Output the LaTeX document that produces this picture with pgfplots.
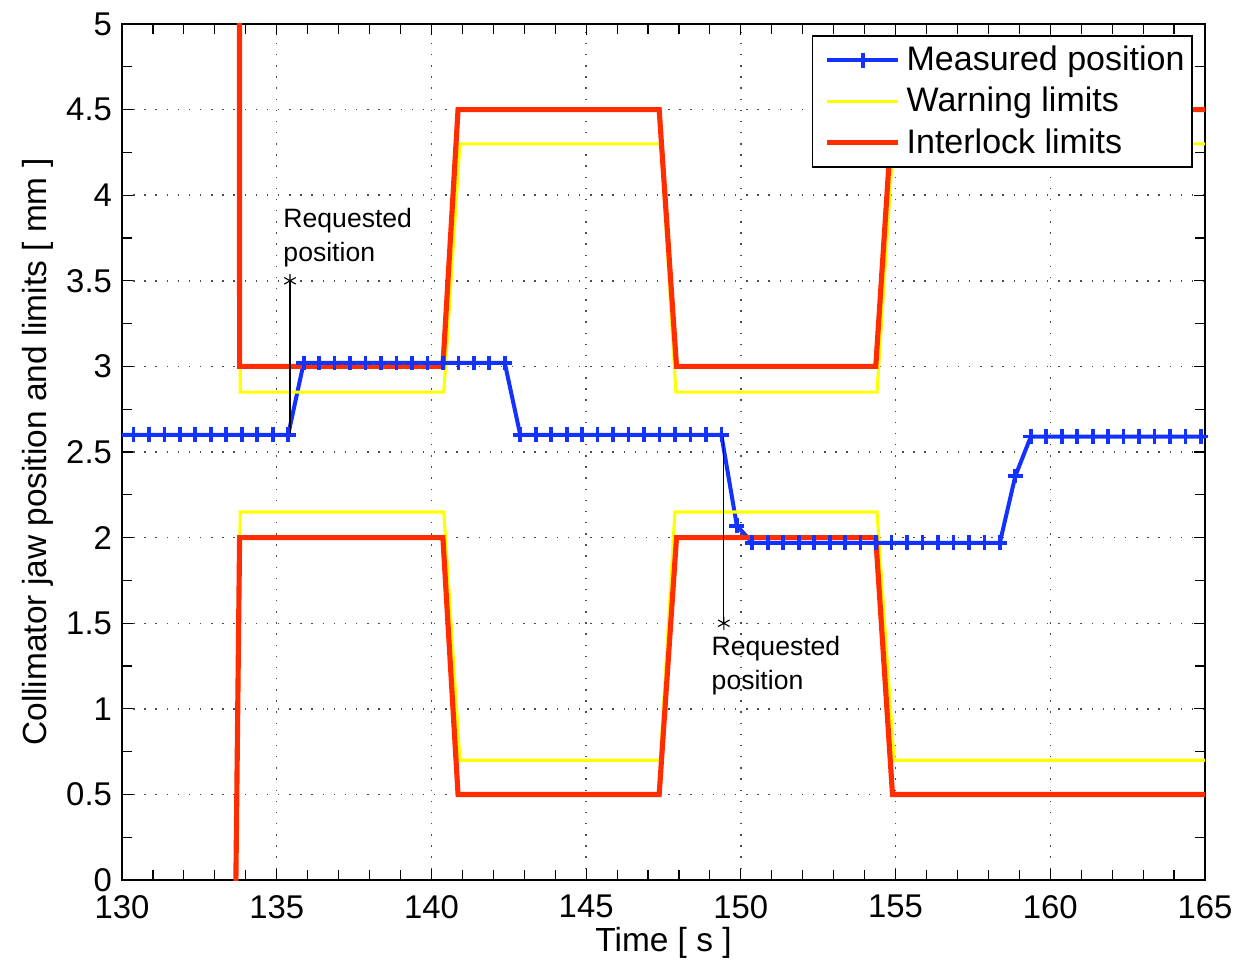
\documentclass[border=0pt]{standalone}
\usepackage{fontspec}
\setmainfont{Liberation Sans}
\usepackage{pgfplots}
\pgfplotsset{compat=1.18}

\definecolor{mblue}{RGB}{20,50,255}
\definecolor{myellow}{RGB}{255,255,0}
\definecolor{mred}{RGB}{255,45,0}

\begin{document}
\begin{tikzpicture}
\begin{axis}[
  name=ax,
  scale only axis,
  width=379pt, height=299.6pt,
  xmin=130, xmax=165, ymin=0, ymax=5,
  xtick={130,135,140,145,150,155,160,165},
  ytick={0,0.5,1,1.5,2,2.5,3,3.5,4,4.5,5},
  minor x tick num=4,
  minor y tick num=1,
  tick align=inside,
  major tick length=4pt, minor tick length=3.5pt,
  every tick/.style={black, line width=0.4pt},
  axis line style={line width=0.7pt},
  xmajorgrids, ymajorgrids,
  major grid style={black!70, line width=0.5pt, dash pattern=on 0.5pt off 3.4pt},
  tick label style={font=\fontsize{11.5}{13}\selectfont},
  xticklabel style={yshift=-1.8pt},
  /pgf/number format/assume math mode=true,
  xlabel={Time [ s ]},
  ylabel={Collimator jaw position and limits [ mm ]},
  every axis x label/.style={at={(axis description cs:0.5,-0.0735)}, anchor=center,
    font=\fontsize{11.7}{13}\selectfont},
  every axis y label/.style={at={(axis description cs:-0.0776,0.5)}, rotate=90, anchor=center,
    font=\fontsize{11.7}{13}\selectfont},
  legend style={at={(0.989,0.987)}, anchor=north east, draw=black, line width=0.6pt,
    fill=white, font=\fontsize{11.9}{13}\selectfont, inner xsep=0.7pt, inner ysep=1.5pt,
    row sep=0.3pt, cells={anchor=west}},
  legend image code/.code={\path (0pt,0pt); \draw[mark repeat=2,mark phase=2,#1] plot coordinates {(3.5pt,0pt) (16pt,0pt) (28.5pt,0pt)};},
]

% measured jaw position, one sample every 0.5 s
\addplot[mblue, line width=1.4pt, mark=+, mark size=2.6pt, mark options={line width=1.3pt}] coordinates {
  (129.87,2.6) (130.37,2.6) (130.87,2.6) (131.37,2.6) (131.87,2.6) (132.37,2.6)
  (132.87,2.6) (133.37,2.6) (133.87,2.6) (134.37,2.6) (134.87,2.6) (135.37,2.6)
  (135.87,3.02) (136.37,3.02) (136.87,3.02) (137.37,3.02) (137.87,3.02) (138.37,3.02)
  (138.87,3.02) (139.37,3.02) (139.87,3.02) (140.37,3.02) (140.87,3.02) (141.37,3.02)
  (141.87,3.02) (142.37,3.02)
  (142.87,2.6) (143.37,2.6) (143.87,2.6) (144.37,2.6) (144.87,2.6) (145.37,2.6)
  (145.87,2.6) (146.37,2.6) (146.87,2.6) (147.37,2.6) (147.87,2.6) (148.37,2.6)
  (148.87,2.6) (149.37,2.6)
  (149.87,2.07)
  (150.37,1.97) (150.87,1.97) (151.37,1.97) (151.87,1.97) (152.37,1.97) (152.87,1.97)
  (153.37,1.97) (153.87,1.97) (154.37,1.97) (154.87,1.97) (155.37,1.97) (155.87,1.97)
  (156.37,1.97) (156.87,1.97) (157.37,1.97) (157.87,1.97) (158.37,1.97)
  (158.87,2.36)
  (159.37,2.59) (159.87,2.59) (160.37,2.59) (160.87,2.59) (161.37,2.59) (161.87,2.59)
  (162.37,2.59) (162.87,2.59) (163.37,2.59) (163.87,2.59) (164.37,2.59) (164.87,2.59)
  (165.37,2.59)
};
\addlegendentry{Measured position}

% warning limits
\addplot[myellow, line width=1.1pt] coordinates {
  (133.81,8) (133.82,2.85) (140.4,2.85) (140.92,4.3) (147.42,4.3) (147.9,2.85)
  (154.4,2.85) (154.92,4.3) (165.5,4.3)
};
\addlegendentry{Warning limits}
\addplot[myellow, line width=1.1pt, forget plot] coordinates {
  (133.64,-1) (133.82,2.15) (140.4,2.15) (140.92,0.7) (147.4,0.7) (147.87,2.15)
  (154.4,2.15) (154.95,0.7) (165.5,0.7)
};

% interlock limits
\addplot[mred, line width=1.8pt] coordinates {
  (133.79,8) (133.8,3) (140.37,3) (140.86,4.5) (147.36,4.5) (147.92,3)
  (154.36,3) (154.9,4.5) (165.5,4.5)
};
\addlegendentry{Interlock limits}
\addplot[mred, line width=1.8pt, forget plot] coordinates {
  (133.62,-1) (133.8,2) (140.37,2) (140.86,0.5) (147.36,0.5) (147.92,2)
  (154.36,2) (154.9,0.5) (165.5,0.5)
};

% requested position annotations
\addplot[black, line width=0.4pt, mark=asterisk, mark size=2.3pt, mark indices={2},
  mark options={line width=0.4pt}, forget plot] coordinates {(135.43,2.6) (135.43,3.5)};
\addplot[black, line width=0.4pt, mark=asterisk, mark size=2.3pt, mark indices={2},
  mark options={line width=0.4pt}, forget plot] coordinates {(149.45,2.6) (149.45,1.5)};

\node[anchor=north west, inner sep=0pt, align=left, font=\fontsize{9.3}{11.9}\selectfont]
  at (axis cs:135.2,3.925) {Requested\\position};
\node[anchor=north west, inner sep=0pt, align=left, font=\fontsize{9.3}{11.9}\selectfont]
  at (axis cs:149.04,1.425) {Requested\\position};
\end{axis}
\pgfresetboundingbox
\useasboundingbox ([xshift=-42.7pt, yshift=-27.65pt]ax.south west)
  rectangle ([xshift=11.55pt, yshift=8.4pt]ax.north east);
\end{tikzpicture}
\end{document}
